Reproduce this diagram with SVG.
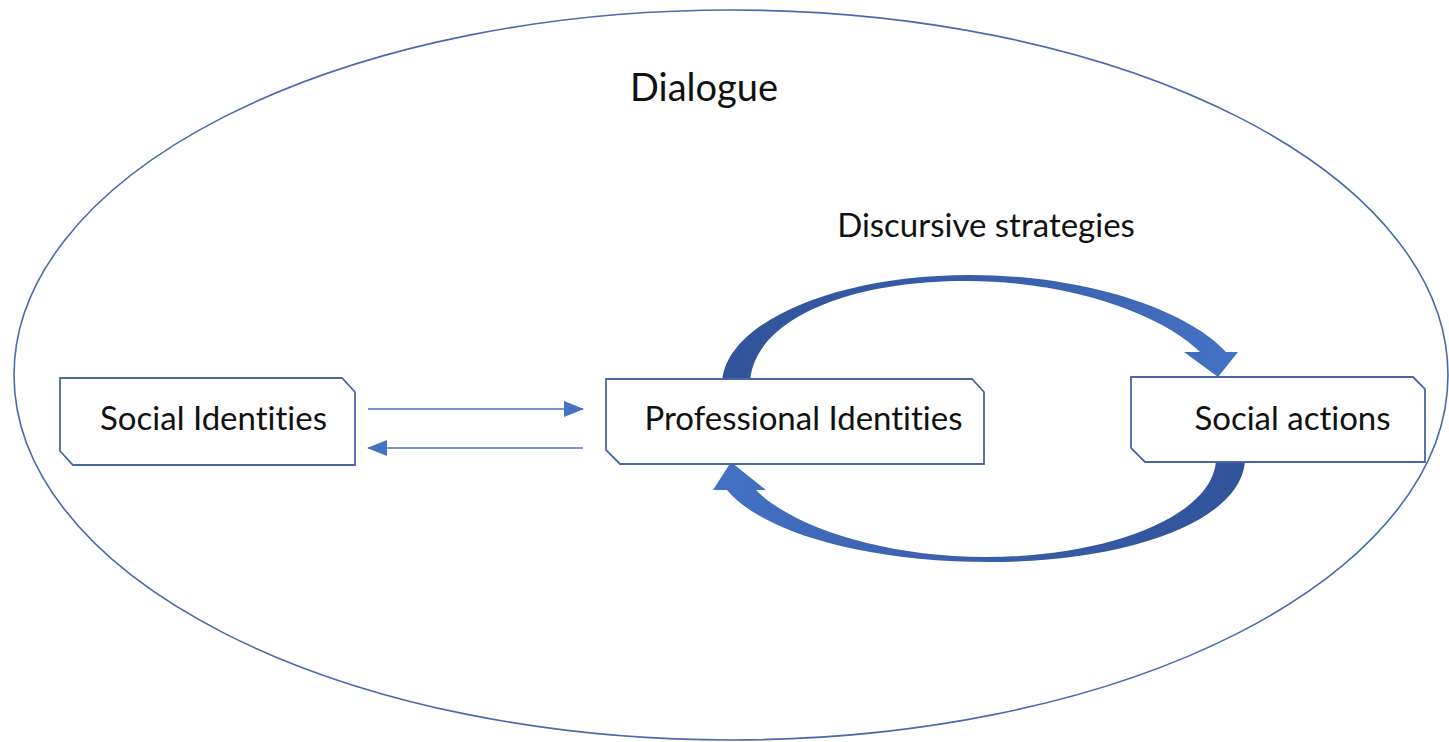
<svg xmlns="http://www.w3.org/2000/svg" width="1449" height="742" viewBox="0 0 1449 742">
  <style>
    .frame { fill: none; stroke: #4a6aae; stroke-width: 1.6; }
    .box { fill: #ffffff; stroke: #4a66a8; stroke-width: 1.8; stroke-linejoin: miter; }
    .label { font-family: Lato, "Open Sans", "Liberation Sans", sans-serif; font-size: 33px; fill: #111111; text-anchor: middle; font-variant-ligatures: none; font-feature-settings: "liga" 0, "clig" 0; }
    .title { font-size: 38px; }
    .link { fill: none; stroke: #4472c4; stroke-width: 1.6; }
  </style>
  <defs>
    <marker id="head" viewBox="0 0 20 16" refX="19" refY="8" markerUnits="userSpaceOnUse" markerWidth="20" markerHeight="16" orient="auto">
      <path d="M0,0 L20,8 L0,16 Z" fill="#4472c4"/>
    </marker>
    <linearGradient id="arcTop" x1="0" y1="0" x2="1" y2="0">
      <stop offset="0" stop-color="#30539a"/>
      <stop offset="0.55" stop-color="#3a5fab"/>
      <stop offset="1" stop-color="#4472c4"/>
    </linearGradient>
    <linearGradient id="arcBottom" x1="1" y1="0" x2="0" y2="0">
      <stop offset="0" stop-color="#30539a"/>
      <stop offset="0.55" stop-color="#3a5fab"/>
      <stop offset="1" stop-color="#4472c4"/>
    </linearGradient>
  </defs>

  <!-- enclosing dialogue ellipse -->
  <g id="dialogue">
    <ellipse class="frame" cx="731" cy="375" rx="717" ry="365"/>
    <text class="label title" x="704" y="101">Dialogue</text>
  </g>

  <text id="strategies-label" class="label" x="986" y="237">Discursive strategies</text>

  <!-- connectors -->
  <g id="connectors">
    <line class="link" x1="368" y1="409" x2="583" y2="409" marker-end="url(#head)"/>
    <line class="link" x1="583" y1="448" x2="368" y2="448" marker-end="url(#head)"/>
    <!-- curved block arrow: professional identities to social actions -->
    <path fill="url(#arcTop)" d="M722,385 C722,324 833,275 970,275 C1090,275 1190,312 1226,352 L1238,352 L1218,377 L1184,352 L1200,352 C1165,317 1075,281 966,281 C836,281 750,326 750,385 Z"/>
    <!-- curved block arrow: social actions back to professional identities -->
    <path fill="url(#arcBottom)" d="M1245,458 C1245,520 1130,562 990,562 C860,562 760,530 727,490 L713,490 L731,462 L766,490 L756,490 C790,525 880,557 986,557 C1110,557 1216,515 1216,458 Z"/>
  </g>

  <g id="social-identities">
    <path class="box" d="M60,378 L342,378 L355,392 L355,465 L73,465 L60,451 Z"/>
    <text class="label" x="213.5" y="430">Social Identities</text>
  </g>

  <g id="professional-identities">
    <path class="box" d="M606,379 L972,379 L984,392 L984,464 L620,464 L606,450 Z"/>
    <text class="label" x="803.5" y="430">Professional Identities</text>
  </g>

  <g id="social-actions">
    <path class="box" d="M1131,377 L1413,377 L1425,389 L1425,462 L1145,462 L1131,448 Z"/>
    <text class="label" x="1292.5" y="430">Social actions</text>
  </g>
</svg>
